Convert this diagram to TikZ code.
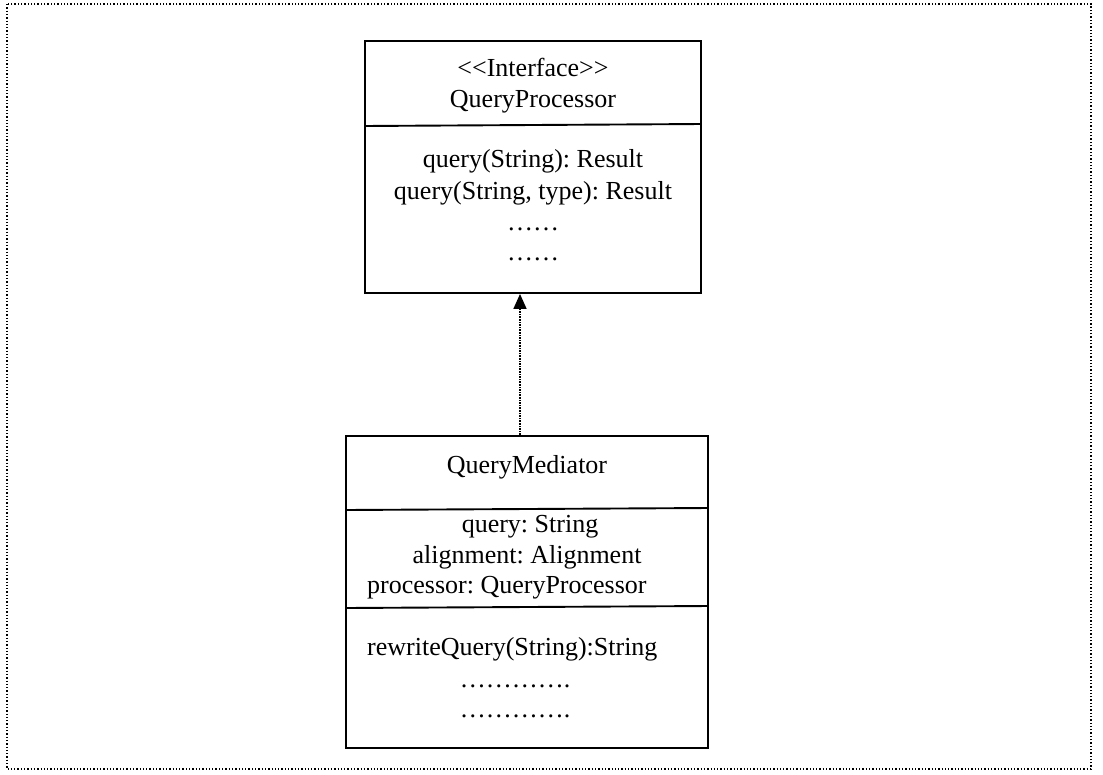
\documentclass[tikz,border=0pt]{standalone}
\usepackage{fontspec}
\newfontfamily\tm{Liberation Serif}
\usetikzlibrary{arrows.meta}
\frenchspacing
\tikzset{
  cls/.style={draw, line width=1.9pt, rectangle, inner sep=0pt},
  txt/.style={anchor=base, inner sep=0pt, font=\tm\fontsize{26}{32}\selectfont},
  txtl/.style={anchor=base west, inner sep=0pt, font=\tm\fontsize{26}{32}\selectfont},
  sep/.style={line width=1.9pt},
  realize/.style={line width=1.6pt, densely dotted, -{Triangle[width=13pt,length=15pt]}},
  frame/.style={line width=1.3pt, dash pattern=on 1.3pt off 2pt}
}
\begin{document}
\begin{tikzpicture}[x=1pt,y=-1pt]
\useasboundingbox (0,0) rectangle (1103,774);
\draw[frame] (7,4) rectangle (1091,769);
% QueryProcessor
\node[cls, minimum width=336pt, minimum height=252pt] (qp) at (533,167) {};
\draw[sep] (qp.west |- 0,126) -- (qp.east |- 0,124);
\node[txt] (t1) at (533,76) {<<Interface>>};
\node[txt] (t2) at (533,107) {QueryProcessor};
\node[txt] (t3) at (533,167) {query(String): Result};
\node[txt] (t4) at (533,199) {query(String, type): Result};
\node[txt] (t5) at (533,230) {……};
\node[txt] (t6) at (533,260) {……};
% QueryMediator
\node[cls, minimum width=362pt, minimum height=312pt] (qm) at (527,592) {};
\draw[sep] (qm.west |- 0,510) -- (qm.east |- 0,508);
\draw[sep] (qm.west |- 0,608) -- (qm.east |- 0,606);
\node[txt] (m1) at (527,473) {QueryMediator};
\node[txt] (m2) at (530,532) {query: String};
\node[txt] (m3) at (527,563) {alignment: Alignment};
\node[txtl] (m4) at (367,593) {processor: QueryProcessor};
\node[txtl] (m5) at (367,655) {rewriteQuery(String):String};
\node[txt] (m6) at (515,687) {………….};
\node[txt] (m7) at (515,717) {………….};
% realization
\draw[realize] (qm.north -| 520,0) -- (qp.south -| 520,0);
\end{tikzpicture}
\end{document}
